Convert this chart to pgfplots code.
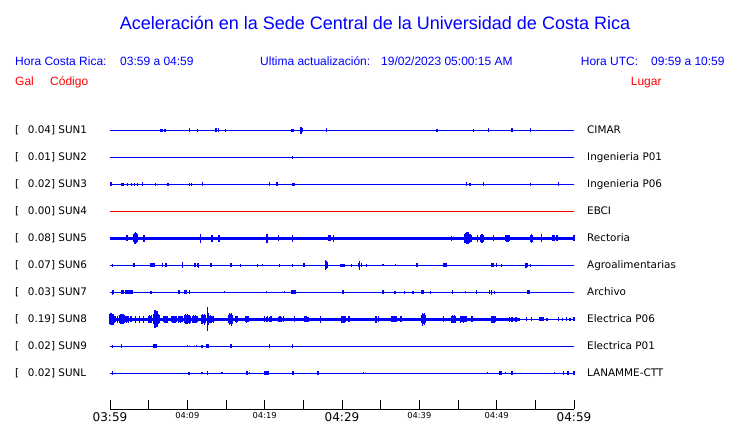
\documentclass[border=0pt]{standalone}
\usepackage{pgfplots}
\pgfplotsset{compat=1.18}
\usepackage{fontspec}
\setmainfont{DejaVu Sans}
\newfontfamily\lib{Liberation Sans}
\pgfplotsset{trace/.style={blue, line width=1pt, mark=none,
  /pgfplots/error bars/y dir=both, /pgfplots/error bars/y explicit,
  /pgfplots/error bars/error mark=none,
  /pgfplots/error bars/error bar style={line width=1.3pt, blue, solid}}}
\newcommand{\rl}{\fontsize{10.4}{12}\selectfont}
\newcommand{\tl}{\lib\fontsize{12}{14}\selectfont}
\begin{document}
\begin{tikzpicture}
\path[use as bounding box] (0,0) rectangle (740pt,423pt);
% title and header
\node[anchor=base, inner sep=0, text=blue] at (375pt,393pt) {\lib\fontsize{18}{20}\selectfont Aceleración en la Sede Central de la Universidad de Costa Rica};
\node[anchor=base west, inner sep=0, text=blue] at (15pt,357.5pt) {\tl Hora Costa Rica:};
\node[anchor=base west, inner sep=0, text=blue] at (120pt,357.5pt) {\tl 03:59 a 04:59};
\node[anchor=base west, inner sep=0, text=blue] at (260pt,357.5pt) {\tl Ultima actualización:};
\node[anchor=base west, inner sep=0, text=blue] at (381pt,357.5pt) {\tl 19/02/2023 05:00:15 AM};
\node[anchor=base west, inner sep=0, text=blue] at (580.7pt,357.5pt) {\tl Hora UTC:};
\node[anchor=base west, inner sep=0, text=blue] at (651pt,357.5pt) {\tl 09:59 a 10:59};
\node[anchor=base west, inner sep=0, text=red] at (15pt,337.5pt) {\tl Gal};
\node[anchor=base west, inner sep=0, text=red] at (50pt,337.5pt) {\tl Código};
\node[anchor=base west, inner sep=0, text=red] at (630.7pt,337.5pt) {\tl Lugar};
% row labels
\foreach \b/\v/\c/\n in {289/0.04/SUN1/CIMAR, 262/0.01/SUN2/Ingenieria P01, 235/0.02/SUN3/Ingenieria P06, 208/0.00/SUN4/EBCI, 181/0.08/SUN5/Rectoria, 154/0.07/SUN6/Agroalimentarias, 127/0.03/SUN7/Archivo, 100/0.19/SUN8/Electrica P06, 73/0.02/SUN9/Electrica P01, 46/0.02/SUNL/LANAMME-CTT}{
  \node[anchor=base west, inner sep=0] at (15pt,\b pt) {\rl [};
  \node[anchor=base west, inner sep=0] at (27.7pt,\b pt) {\rl \v] \c};
  \node[anchor=base west, inner sep=0] at (587pt,\b pt) {\rl \n};
}
\begin{axis}[at={(110pt,13.5pt)}, anchor=south west, scale only axis,
  width=464pt, height=279pt, xmin=0, xmax=60, ymin=-11.3333, ymax=-1,
  enlargelimits=false, clip=false,
  axis x line=bottom, axis y line=none, axis line style={-, black, line width=1pt},
  xtick={0,5,...,60}, major tick length=9pt, tick align=inside,
  tick style={black, line width=1pt},
  xticklabel style={anchor=north, inner sep=0pt, yshift=-2.5pt},
  xticklabels={{\fontsize{12}{14}\selectfont 03:59},{},{\fontsize{8.3}{10}\selectfont 04:09},{},{\fontsize{8.3}{10}\selectfont 04:19},{},{\fontsize{12}{14}\selectfont 04:29},{},{\fontsize{8.3}{10}\selectfont 04:39},{},{\fontsize{8.3}{10}\selectfont 04:49},{},{\fontsize{12}{14}\selectfont 04:59}},
  ytick=\empty]
% SUN1
\addplot[trace] table[row sep=\\, x=t, y expr=-1, y error expr=\thisrow{a}/27] {
t a\\ 0 0\\ 6.5 1.7\\ 6.6 1.7\\ 6.7 1.7\\ 6.8 1.7\\ 7.1 1.7\\ 7.2 1.7\\ 10.25 2\\ 11.3 1.2\\ 13.7 2\\ 14.0 2\\ 14.9 1.2\\ 23.55 1.7\\ 23.65 1.7\\ 24.6 2\\ 24.7 3.5\\ 24.8 2.5\\ 24.9 2\\ 28.0 2\\ 42.3 1.2\\ 47.0 1.2\\ 48.9 2\\ 52.0 2\\ 54.35 2\\ 60 0\\
};
% SUN2
\addplot[trace] table[row sep=\\, x=t, y expr=-2, y error expr=\thisrow{a}/27] {
t a\\ 0 0\\ 23.6 1.3\\ 60 0\\
};
% SUN3
\addplot[trace] table[row sep=\\, x=t, y expr=-3, y error expr=\thisrow{a}/27] {
t a\\ 0 0\\ 0.13 2\\ 1.55 1.7\\ 1.68 1.7\\ 2.24 1.5\\ 2.76 1.5\\ 3.19 1.2\\ 3.53 1.5\\ 4.18 2\\ 5.9 1.5\\ 7.4 1.7\\ 7.53 1.7\\ 10.25 1.5\\ 10.5 1.5\\ 11.98 2\\ 20.6 2\\ 21.6 2\\ 23.6 1.8\\ 23.73 1.8\\ 23.86 1.8\\ 46.1 2\\ 46.45 1.7\\ 46.58 1.7\\ 48.3 2\\ 54.4 1.7\\ 58.0 2\\ 60 0\\
};
% SUN4
\addplot[red, line width=1pt] coordinates {(0,-4) (60,-4)};
% SUN5
\addplot[trace, line width=3.7pt] table[row sep=\\, x=t, y expr=-5, y error expr=\thisrow{a}/27] {
t a\\ 0 0\\ 2.2 3\\ 2.3 3\\ 3.1 4\\ 3.2 5.5\\ 3.3 6\\ 3.4 5\\ 3.5 4\\ 4.35 3.5\\ 4.45 3.5\\ 11.7 4.5\\ 13.2 3.5\\ 14.1 3.5\\ 20.3 4.5\\ 21.8 3\\ 23.6 3.5\\ 28.3 3\\ 28.5 3\\ 28.9 3.5\\ 44.2 2.5\\ 45.8 3.5\\ 45.9 4.5\\ 46.0 5\\ 46.1 6\\ 46.2 5.5\\ 46.3 6\\ 46.4 5\\ 46.5 4.5\\ 46.6 4\\ 46.7 3.5\\ 47.5 3.5\\ 47.9 3.5\\ 48.0 4.5\\ 48.1 4.5\\ 48.2 4\\ 48.3 3.5\\ 49.6 3\\ 51.2 3\\ 51.3 3.5\\ 51.4 3.5\\ 51.5 3.5\\ 51.6 3\\ 54.4 3.5\\ 54.5 4.5\\ 54.6 3.5\\ 55.8 4\\ 57.3 3\\ 57.5 3\\ 57.7 3\\ 57.9 3\\ 59.9 3\\ 60 3\\
};
% SUN6
\addplot[trace] table[row sep=\\, x=t, y expr=-6, y error expr=\thisrow{a}/27] {
t a\\ 0 0\\ 0.3 1.5\\ 3.08 2\\ 3.2 2\\ 5.3 2\\ 5.43 2\\ 5.56 2\\ 5.69 2\\ 6.8 2\\ 7.24 2\\ 9.35 3\\ 11.0 2\\ 11.35 2\\ 11.48 2.5\\ 13.0 2\\ 13.13 2\\ 15.55 2\\ 15.68 2\\ 16.9 1.5\\ 19.1 1.5\\ 19.7 1\\ 21.9 1.5\\ 23.6 1.5\\ 25.1 2\\ 27.9 5\\ 28.0 4\\ 28.1 3\\ 29.8 1.5\\ 30.0 1.5\\ 30.2 1.5\\ 30.3 1.5\\ 31.2 1.5\\ 32.1 2\\ 32.3 4.5\\ 32.5 2\\ 33.2 1.5\\ 35.3 1\\ 36.9 1\\ 39.7 2\\ 43.2 2\\ 43.33 2\\ 43.46 2\\ 49.4 2\\ 49.6 2\\ 50.0 2\\ 50.6 1.5\\ 53.7 2.5\\ 53.83 2.5\\ 53.96 2\\ 54.4 1.5\\ 60 0\\
};
% SUN7
\addplot[trace] table[row sep=\\, x=t, y expr=-7, y error expr=\thisrow{a}/27] {
t a\\ 0 0\\ 0.3 2.5\\ 0.43 2\\ 1.55 2\\ 1.68 2\\ 2.05 2\\ 2.18 2\\ 2.45 2\\ 2.58 2\\ 2.71 2\\ 2.84 2\\ 5.3 1.5\\ 8.85 2\\ 8.98 2\\ 9.65 2\\ 9.78 2\\ 9.91 2\\ 10.3 2\\ 14.8 1\\ 20.2 1\\ 22.6 1\\ 23.5 2\\ 23.63 2\\ 23.76 2\\ 23.89 2\\ 24.02 2\\ 30.05 2\\ 30.18 2\\ 35.3 2\\ 36.85 1.5\\ 38.1 1.8\\ 39.2 1.5\\ 40.35 2\\ 40.48 2\\ 41.4 1.5\\ 44.3 2\\ 46.0 1\\ 47.4 2\\ 49.1 2\\ 49.3 2.5\\ 49.75 1.5\\ 54.0 2\\ 54.13 2\\ 54.26 2\\ 60 0\\
};
% SUN8 (band part)
\addplot[trace, line width=3.7pt] table[row sep=\\, x=t, y expr=-8, y error expr=\thisrow{a}/27] {
t a\\ 0 5\\ 0.13 6\\ 0.26 4\\ 0.39 5.5\\ 0.52 3.5\\ 0.65 3\\ 0.95 3.5\\ 1.3 4\\ 1.43 5\\ 1.56 3.5\\ 1.69 5\\ 1.82 4\\ 2.0 3\\ 2.13 3.5\\ 2.26 3\\ 2.39 3.5\\ 2.7 3\\ 3.3 3.5\\ 3.8 3.5\\ 4.35 3.5\\ 4.95 3.5\\ 5.08 4\\ 5.21 3.5\\ 5.34 4\\ 5.7 5\\ 5.83 9\\ 5.96 7\\ 6.09 8\\ 6.22 5\\ 6.35 4\\ 7.0 3\\ 7.13 3.5\\ 7.26 3\\ 7.39 3.5\\ 8.0 3\\ 8.13 3.5\\ 8.26 3\\ 8.39 3.5\\ 8.52 3\\ 8.9 3.5\\ 9.03 3\\ 9.16 3.5\\ 9.3 3\\ 9.6 4\\ 9.73 5\\ 9.86 4.5\\ 9.99 5\\ 10.12 4\\ 10.25 4.5\\ 10.38 3.5\\ 10.7 3.5\\ 10.83 4\\ 10.96 3.5\\ 11.09 4\\ 11.22 3.5\\ 11.35 3\\ 11.8 4.5\\ 11.93 5\\ 12.06 4\\ 12.19 5.5\\ 12.32 4\\ 12.6 12\\ 12.73 6\\ 12.86 3.5\\ 12.99 4\\ 13.12 3.5\\ 13.25 3\\ 13.38 3.5\\ 15.3 4\\ 15.43 6\\ 15.56 5\\ 15.69 6.5\\ 15.82 4.5\\ 16.2 3\\ 16.35 3.5\\ 16.5 3\\ 17.5 3\\ 17.65 3.5\\ 17.8 3\\ 17.95 3\\ 20.0 3\\ 20.2 2.5\\ 20.4 3\\ 20.6 2.5\\ 20.8 3\\ 21.8 2.5\\ 22.0 3\\ 22.2 2.5\\ 22.4 3\\ 23.9 3\\ 25.2 3\\ 25.4 3\\ 25.6 2.5\\ 27.2 3.5\\ 30.0 3.5\\ 30.13 3\\ 30.26 3.5\\ 30.4 3\\ 30.9 3\\ 34.3 3.5\\ 34.5 3.5\\ 34.7 3\\ 36.4 3\\ 36.6 3\\ 36.8 3\\ 37.0 3\\ 37.55 3\\ 37.7 3\\ 40.3 4\\ 40.43 6.5\\ 40.56 5\\ 40.69 6\\ 40.82 4\\ 43.1 3\\ 44.2 3.5\\ 44.33 4\\ 44.46 3.5\\ 44.59 4\\ 44.72 3.5\\ 45.3 3.5\\ 45.5 3\\ 45.7 3.5\\ 45.9 3\\ 46.1 3\\ 46.8 3\\ 49.35 3.5\\ 49.5 3.5\\ 49.65 3.5\\ 49.8 3\\ 51.7 2.5\\ 52.0 2.5\\ 52.5 2.5\\ 53.0 0\\
};
% SUN8 (thin part)
\addplot[trace] table[row sep=\\, x=t, y expr=-8, y error expr=\thisrow{a}/27] {
t a\\ 53.0 0\\ 53.9 2\\ 54.5 2\\ 55.6 2\\ 55.73 2\\ 55.86 2\\ 55.99 2\\ 56.5 1.5\\ 58.0 2\\ 58.5 1.5\\ 59.05 2\\ 59.5 1.5\\ 59.9 2\\ 60 2\\
};
% SUN9
\addplot[trace] table[row sep=\\, x=t, y expr=-9, y error expr=\thisrow{a}/27] {
t a\\ 0 0\\ 0.3 1.5\\ 1.5 2\\ 5.6 2\\ 5.73 2\\ 5.86 2\\ 5.99 2\\ 10.0 1\\ 11.2 1\\ 11.9 1.5\\ 12.55 2\\ 12.68 2\\ 15.65 2\\ 20.6 2\\ 23.6 2\\ 60 0\\
};
% SUNL
\addplot[trace] table[row sep=\\, x=t, y expr=-10, y error expr=\thisrow{a}/27] {
t a\\ 0 0\\ 0.3 2\\ 10.2 1.5\\ 11.9 1\\ 12.6 2\\ 14.5 1\\ 17.65 2\\ 17.78 2\\ 18.0 1\\ 20.0 2\\ 20.13 2\\ 20.26 2\\ 20.39 2\\ 20.52 2\\ 23.65 2\\ 26.9 2\\ 32.75 1\\ 48.8 1\\ 50.4 2\\ 50.53 2\\ 50.66 2\\ 51.1 1\\ 52.0 2\\ 57.45 1\\ 58.6 2\\ 59.2 2\\ 59.33 2\\ 60 2\\
};
\end{axis}
\end{tikzpicture}
\end{document}
